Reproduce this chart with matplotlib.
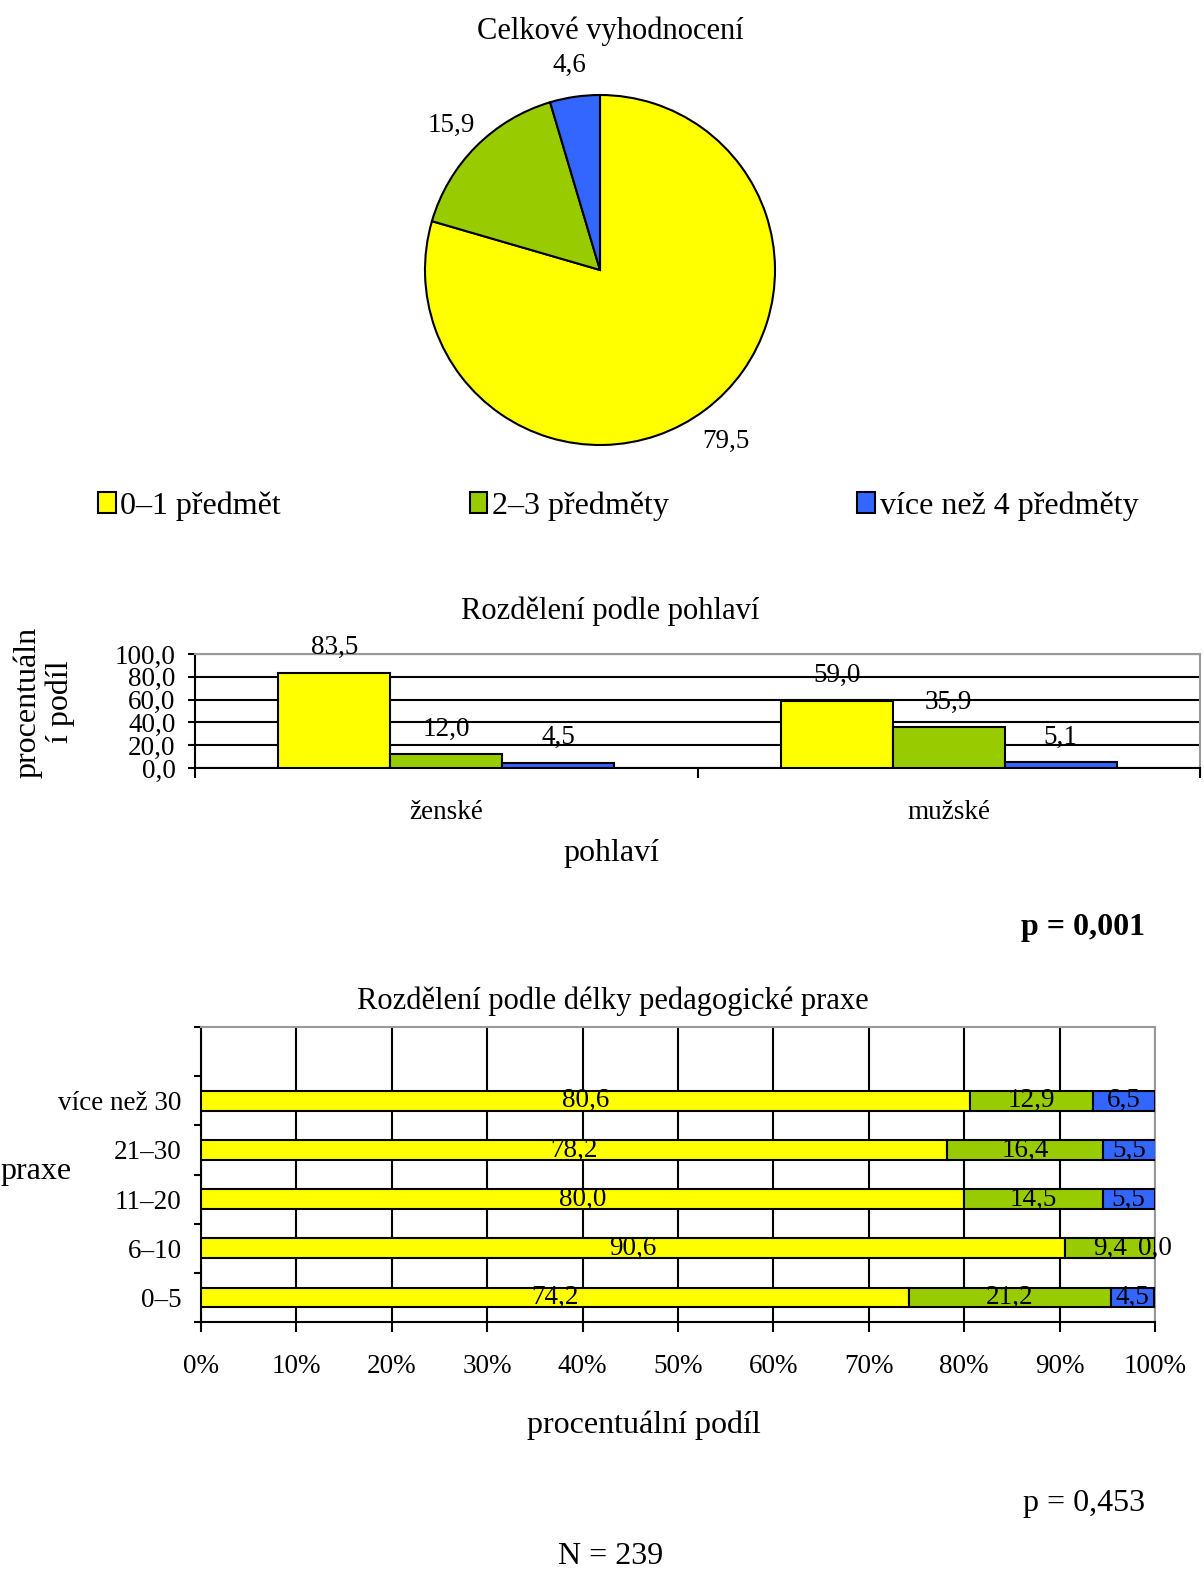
import matplotlib
matplotlib.use("Agg")
import matplotlib.pyplot as plt
from matplotlib.patches import Patch
import numpy as np

plt.rcParams['font.family'] = ['Liberation Serif', 'DejaVu Serif']

# data
skupiny = ['0–1 předmět', '2–3 předměty', 'více než 4 předměty']
barvy = ['#FFFF00', '#99CC00', '#3366FF']

celkem = [79.5, 15.9, 4.6]

pohlavi = ['ženské', 'mužské']
pohlavi_hodnoty = [
    [83.5, 59.0],   # 0-1
    [12.0, 35.9],   # 2-3
    [4.5, 5.1],     # vice nez 4
]

praxe = ['0–5', '6–10', '11–20', '21–30', 'více než 30']
praxe_hodnoty = [
    [74.2, 90.6, 80.0, 78.2, 80.6],
    [21.2, 9.4, 14.5, 16.4, 12.9],
    [4.5, 0.0, 5.5, 5.5, 6.5],
]

W, H = 1204, 1570
fig = plt.figure(figsize=(W / 100, H / 100), dpi=100)

FS_TITLE = 22
FS_TICK = 19.5
FS_LAB = 23


def rect(left, top, right, bottom):
    return [left / W, 1 - bottom / H, (right - left) / W, (bottom - top) / H]


def cz(v):
    return f"{v:.1f}".replace('.', ',')


def text_px(x, y, s, **kw):
    kw.setdefault('ha', 'center')
    kw.setdefault('va', 'center')
    fig.text(x / W, 1 - y / H, s, **kw)


# --- kolac ---
ax1 = fig.add_axes(rect(425, 95, 775, 445))
wedges, _ = ax1.pie(celkem, colors=barvy, startangle=90, counterclock=False,
                    radius=1, wedgeprops=dict(edgecolor='black', linewidth=1.5))
for w, v in zip(wedges, celkem):
    ang = np.deg2rad((w.theta1 + w.theta2) / 2)
    ax1.text(1.2 * np.cos(ang), 1.2 * np.sin(ang) - 0.02, cz(v), ha='center', va='center', fontsize=FS_TICK)
ax1.set_xlim(-1, 1)
ax1.set_ylim(-1, 1)
ax1.set_aspect('equal')
text_px(610, 31, 'Celkové vyhodnocení', fontsize=FS_TITLE)

handles = [Patch(facecolor=c, edgecolor='black', linewidth=1.5) for c in barvy]
fig.legend(handles, skupiny, loc='center left', bbox_to_anchor=(98 / W, 1 - 506 / H),
           ncol=3, frameon=False, fontsize=FS_LAB, handlelength=0.55, handleheight=0.65,
           handletextpad=0.15, columnspacing=5.9, borderpad=0, borderaxespad=0)

# --- pohlavi ---
ax2 = fig.add_axes(rect(195, 654, 1200, 768))
x = np.arange(len(pohlavi))
sirka = 0.223
for i, (vals, c) in enumerate(zip(pohlavi_hodnoty, barvy)):
    b = ax2.bar(x + (i - 1) * sirka, vals, sirka, color=c, edgecolor='black', linewidth=1.5, zorder=3)
    ax2.bar_label(b, labels=[cz(v) for v in vals], padding=9, fontsize=FS_TICK, zorder=4)
ax2.set_xlim(-0.5, 1.5)
ax2.set_ylim(0, 100)
ax2.set_yticks(np.arange(0, 101, 20))
ax2.set_yticklabels([cz(v) for v in np.arange(0, 101, 20)], fontsize=FS_TICK)
ax2.yaxis.grid(True, color='black', linewidth=1.5, zorder=0)
ax2.set_xticks([-0.5, 0.5, 1.5])
ax2.set_xticklabels([])
ax2.set_xticks(x, minor=True)
ax2.set_xticklabels(pohlavi, minor=True, fontsize=FS_TICK)
ax2.tick_params(axis='x', which='major', direction='out', length=7, width=1.5)
ax2.tick_params(axis='x', which='minor', length=0, pad=23)
ax2.tick_params(axis='y', direction='out', length=5, width=1.5, pad=9)
for s in ['top', 'right']:
    ax2.spines[s].set_color('#999999')
    ax2.spines[s].set_linewidth(1.5)
for s in ['left', 'bottom']:
    ax2.spines[s].set_linewidth(1.5)
text_px(610, 611, 'Rozdělení podle pohlaví', fontsize=FS_TITLE)
text_px(611, 853, 'pohlaví', fontsize=FS_LAB)
text_px(44, 702, 'procentuáln\ní podíl', rotation=90, fontsize=FS_LAB, linespacing=1.1)
text_px(1145, 928, 'p = 0,001', ha='right', fontsize=FS_LAB, fontweight='bold')

# --- praxe ---
ax3 = fig.add_axes(rect(201, 1027, 1155, 1322))
y = np.arange(len(praxe))
zleva = np.zeros(len(praxe))
for vals, c in zip(praxe_hodnoty, barvy):
    vals = np.array(vals)
    ax3.barh(y, vals, 0.4, left=zleva, color=c, edgecolor='black', linewidth=1.5, zorder=3)
    for yi, l, v in zip(y, zleva, vals):
        ax3.text(l + v / 2, yi, cz(v), ha='center', va='center', fontsize=FS_TICK, zorder=4)
    zleva += vals
ax3.set_xlim(0, 100)
ax3.set_ylim(-0.5, 5.5)
ax3.set_xticks(np.arange(0, 101, 10))
ax3.set_xticklabels([f"{v}%" for v in range(0, 101, 10)], fontsize=FS_TICK)
ax3.xaxis.grid(True, color='black', linewidth=1.5, zorder=0)
ax3.set_yticks(np.arange(-0.5, 5.6, 1))
ax3.set_yticklabels([])
ax3.set_yticks(y, minor=True)
ax3.set_yticklabels(praxe, minor=True, fontsize=FS_TICK)
ax3.tick_params(axis='y', which='major', direction='out', length=5, width=1.5)
ax3.tick_params(axis='y', which='minor', length=0, pad=14)
ax3.tick_params(axis='x', direction='out', length=7, width=1.5, pad=16)
for s in ['top', 'right']:
    ax3.spines[s].set_color('#999999')
    ax3.spines[s].set_linewidth(1.5)
for s in ['left', 'bottom']:
    ax3.spines[s].set_linewidth(1.5)
text_px(613, 1001, 'Rozdělení podle délky pedagogické praxe', fontsize=FS_TITLE)
text_px(644, 1425, 'procentuální podíl', fontsize=FS_LAB)
text_px(36, 1172, 'praxe', fontsize=FS_LAB)
text_px(1145, 1503, 'p = 0,453', ha='right', fontsize=FS_LAB)
text_px(611, 1557, 'N = 239', fontsize=FS_LAB)

fig.savefig('out.png', dpi=100)
